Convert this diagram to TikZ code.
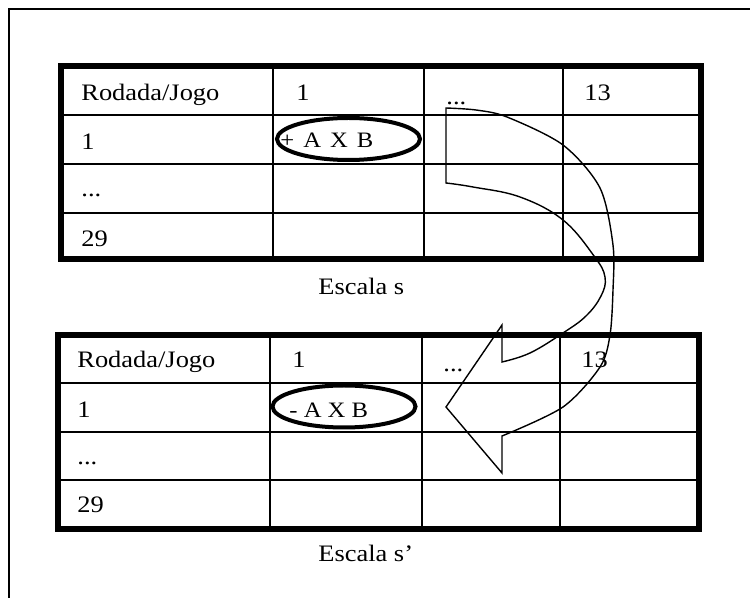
\documentclass[tikz,border=0pt]{standalone}
\usepackage{fontspec}
\setmainfont[FakeStretch=1.12]{Liberation Serif}
\usetikzlibrary{shapes.geometric}
\newcommand{\widegap}{\hspace{4.5pt}}

\begin{document}
\begin{tikzpicture}[
  x=0.5pt, y=-0.5pt,
  cell/.style={anchor=base west,inner sep=0pt,font=\fontsize{11.8}{14}\selectfont},
  pair/.style={anchor=base west,inner sep=0pt,font=\fontsize{11}{13}\selectfont},
  ring/.style={draw,ellipse,line width=2pt,inner sep=0pt,
               minimum width=71.5pt,minimum height=21pt},
  rule/.style={line width=1.1pt},
  border/.style={line width=3pt},
  frame/.style={line width=1pt},
  swing/.style={line width=0.7pt,line join=miter}
]
\useasboundingbox (0,0) rectangle (750,598);
\draw[frame] (9,598) -- (9,9) -- (750,9);

% upper table
\foreach \c in {273,424,563} \draw[rule] (\c,66) -- (\c,259.5);
\foreach \r in {115,164,213} \draw[rule] (61,\r) -- (701,\r);
\draw[border] (61,66) rectangle (701,259.5);
\node[cell] (head1) at (81,101) {Rodada/Jogo};
\node[cell] (game1) at (296,101) {1};
\node[cell] (dots1) at (446,105) {...};
\node[cell] (last1) at (584,101) {13};
\node[cell] (row1) at (81,150) {1};
\node[cell] (more1) at (81,197) {...};
\node[cell] (final1) at (81,247) {29};
\node[ring] (ring1) at (348.5,139) {};
\node[pair] (pair1) at (280,148) {+\widegap A\widegap X\widegap B};
\node[cell] (scale1) at (318,295) {Escala s};

% lower table
\foreach \c in {270,422,560} \draw[rule] (\c,335) -- (\c,529.5);
\foreach \r in {383,432,480} \draw[rule] (58,\r) -- (699,\r);
\draw[border] (58,335) rectangle (699,529.5);
\node[cell] (head2) at (77,368) {Rodada/Jogo};
\node[cell] (game2) at (292,368) {1};
\node[cell] (dots2) at (443,372) {...};
\node[cell] (last2) at (581,368) {13};
\node[cell] (row2) at (77,418) {1};
\node[cell] (more2) at (77,465) {...};
\node[cell] (final2) at (77,513) {29};
\node[ring] (ring2) at (344,406.5) {};
\node[pair] (pair2) at (289,418) {- A X B};
\node[cell] (scale2) at (318,561) {Escala s’};

% curved block arrow, drawn over the tables
\draw[swing] (446,183) -- (446,108)
  -- plot[smooth] coordinates {(446,108) (476,110) (507,117) (563,145)
       (600,188) (613,245) (613,290) (610,335) (600,367) (563,407) (502,436)}
  -- (502,473) -- (446,407) -- (502,325) -- (502,362)
  -- plot[smooth,tension=0.65] coordinates {(502,362) (530,353) (563,333)
       (586,316) (601,296) (605,277) (594,256) (563,220) (520,197)
       (473,187) (446,183)}
  -- cycle;
\end{tikzpicture}
\end{document}
